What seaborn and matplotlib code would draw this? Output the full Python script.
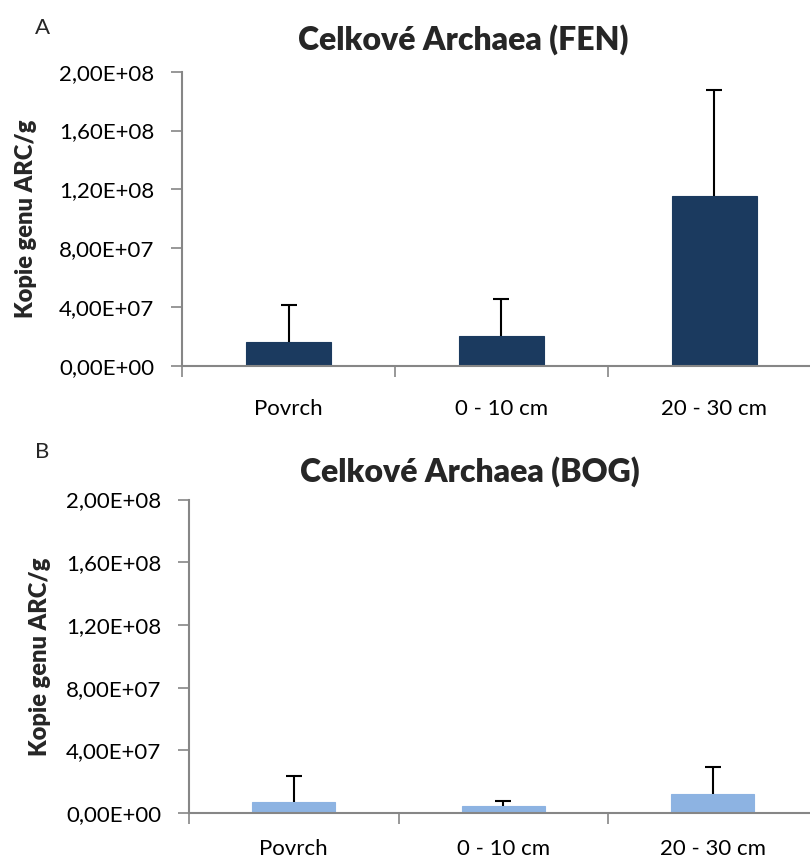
import matplotlib
matplotlib.use("Agg")
import matplotlib.pyplot as plt
import seaborn as sns
import pandas as pd
import numpy as np

categories = ["Povrch", "0 - 10 cm", "20 - 30 cm"]
fen_values = [1.61e7, 2.02e7, 1.155e8]
fen_err = [2.51e7, 2.55e7, 7.2e7]
bog_values = [6.8e6, 4.3e6, 1.21e7]
bog_err = [1.68e7, 3.6e6, 1.74e7]
ytick_values = [0, 4e7, 8e7, 1.2e8, 1.6e8, 2e8]
ytick_labels = ["0,00E+00", "4,00E+07", "8,00E+07", "1,20E+08", "1,60E+08", "2,00E+08"]
titles = ["Celkové Archaea (FEN)", "Celkové Archaea (BOG)"]
panel_letters = ["A", "B"]
ylabel = "Kopie genu ARC/g"

sns.set_theme(style="white")
plt.rcParams['font.family'] = ['Lato', 'DejaVu Sans']

fig = plt.figure(figsize=(8.1, 8.6), dpi=100)
W, H = 810, 860

def px_axes(left, right, top, bottom):
    return fig.add_axes([left / W, 1 - bottom / H, (right - left) / W, (bottom - top) / H])

axA = px_axes(182, 821, 71.7, 366)
axB = px_axes(189, 817.5, 499.5, 813)

gray = "#868686"
specs = [
    (axA, fen_values, fen_err, "#1B3A5F", titles[0], panel_letters[0], 463, 40, 28, 37, 24),
    (axB, bog_values, bog_err, "#8DB3E2", titles[1], panel_letters[1], 470, 472, 452, 51, 19),
]

for ax, vals, errs, color, title, letter, tx, ty, ly, ylx, xpad in specs:
    df = pd.DataFrame({"cat": categories, "val": vals})
    sns.barplot(data=df, x="cat", y="val", order=categories, color=color,
                saturation=1, width=0.395, ax=ax, errorbar=None,
                edgecolor=color, linewidth=0.8)
    eb = ax.errorbar(np.arange(len(categories)), vals,
                     yerr=[np.zeros(len(errs)), errs], fmt="none",
                     ecolor="black", elinewidth=1.5, capsize=6, capthick=1.5)
    eb[1][0].set_visible(False)
    ax.set_xlim(-0.5, 2.5)
    ax.set_ylim(0, 2e8)
    ax.set_yticks(ytick_values)
    ax.set_yticklabels(ytick_labels, fontsize=16, color="black")
    ax.set_xticks([-0.5, 0.5, 1.5, 2.5])
    ax.set_xticklabels([])
    ax.set_xticks(range(len(categories)), minor=True)
    ax.set_xticklabels(categories, minor=True, fontsize=16, color="black")
    ax.tick_params(axis="x", which="major", length=8, width=1.2, color=gray, direction="out", bottom=True)
    ax.tick_params(axis="x", which="minor", length=0, pad=xpad)
    ax.tick_params(axis="y", length=8, width=1.2, color=gray, direction="out", left=True, pad=12)
    ax.set_xlabel("")
    ax.set_ylabel(ylabel, fontsize=17, fontweight="heavy")
    ax.yaxis.set_label_coords((ylx - (ax.get_position().x0 * W)) / (ax.get_position().width * W), 0.5)
    for s in ["top", "right"]:
        ax.spines[s].set_visible(False)
    for s in ["left", "bottom"]:
        ax.spines[s].set_color(gray)
        ax.spines[s].set_linewidth(1.5)
    ax.grid(False)
    fig.text(tx / W, 1 - ty / H, title, fontsize=23, fontweight="heavy",
             ha="center", va="center")
    fig.text(35 / W, 1 - ly / H, letter, fontsize=16, ha="left", va="center")

fig.savefig("out.png", dpi=100)
